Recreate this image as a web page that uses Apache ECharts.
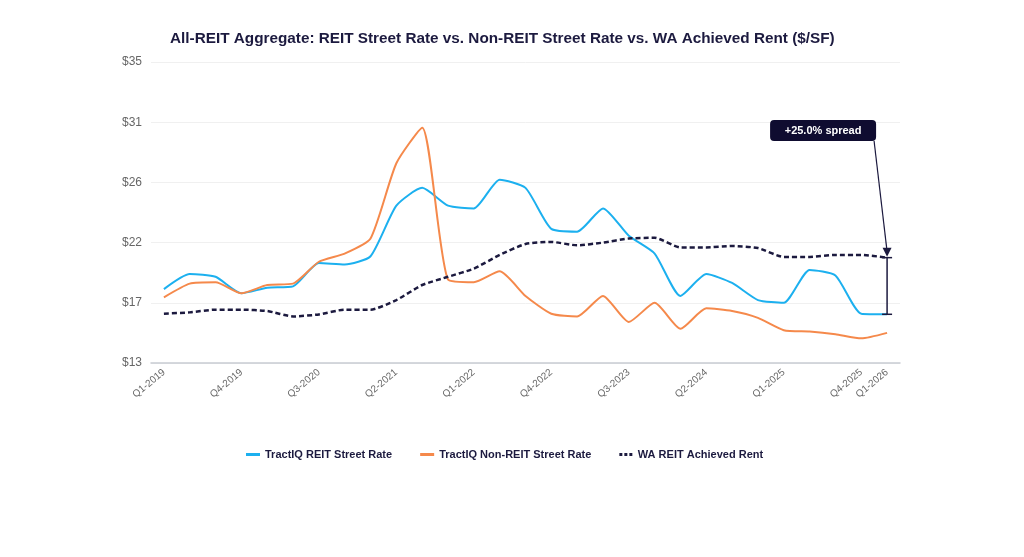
<!DOCTYPE html>
<html>
<head>
<meta charset="utf-8">
<script src="https://cdn.jsdelivr.net/npm/echarts@6/dist/echarts.min.js"></script>
<style>
  html, body { margin: 0; padding: 0; background: #fff; }
  #chart { width: 1024px; height: 557px; }
</style>
</head>
<body>
<div id="chart"></div>
<script>
// quarters, Q1-2019 .. Q1-2026
const quarters = [
  'Q1-2019', 'Q2-2019', 'Q3-2019', 'Q4-2019',
  'Q1-2020', 'Q2-2020', 'Q3-2020', 'Q4-2020',
  'Q1-2021', 'Q2-2021', 'Q3-2021', 'Q4-2021',
  'Q1-2022', 'Q2-2022', 'Q3-2022', 'Q4-2022',
  'Q1-2023', 'Q2-2023', 'Q3-2023', 'Q4-2023',
  'Q1-2024', 'Q2-2024', 'Q3-2024', 'Q4-2024',
  'Q1-2025', 'Q2-2025', 'Q3-2025', 'Q4-2025',
  'Q1-2026'
];

// $/SF
const reitStreet = [18.4, 19.5, 19.3, 18.1, 18.5, 18.6, 20.3, 20.2, 20.8, 24.5, 25.8, 24.5, 24.3, 26.4, 25.8, 22.8, 22.6, 24.3, 22.3, 21.0, 17.9, 19.5, 18.85, 17.6, 17.4, 19.8, 19.4, 16.6, 16.56];
const nonReitStreet = [17.8, 18.8, 18.9, 18.1, 18.7, 18.8, 20.4, 21.0, 22.1, 27.6, 30.2, 19.1, 18.9, 19.7, 17.9, 16.6, 16.4, 17.9, 16.0, 17.4, 15.5, 17.0, 16.8, 16.3, 15.4, 15.3, 15.1, 14.8, 15.2];
const waAchieved = [16.6, 16.7, 16.9, 16.9, 16.8, 16.4, 16.55, 16.9, 16.9, 17.6, 18.7, 19.3, 19.9, 20.9, 21.7, 21.85, 21.6, 21.8, 22.1, 22.15, 21.45, 21.45, 21.55, 21.4, 20.75, 20.75, 20.9, 20.9, 20.7];

const yMin = 13;
const yMax = 35;
const yStep = 4.4;

const navy = '#1c1a3f';
const blue = '#1cb0ef';
const orange = '#f5894b';

const chart = echarts.init(document.getElementById('chart'));

const option = {
  backgroundColor: '#ffffff',
  animation: false,
  textStyle: { fontFamily: 'Liberation Sans, Arial, sans-serif' },
  title: {
    text: 'All-REIT Aggregate: REIT Street Rate vs. Non-REIT Street Rate vs. WA Achieved Rent ($/SF)',
    left: 165,
    top: 26,
    textStyle: { color: navy, fontSize: 15.3, fontWeight: 'bold' }
  },
  legend: {
    top: 444,
    left: 241,
    itemWidth: 14,
    itemHeight: 3,
    itemGap: 28,
    textStyle: { color: navy, fontSize: 11, fontWeight: 'bold' },
    data: [
      { name: 'TractIQ REIT Street Rate', icon: 'rect' },
      { name: 'TractIQ Non-REIT Street Rate', icon: 'rect' },
      { name: 'WA REIT Achieved Rent', icon: 'path://M0,0h3v3h-3z M5,0h3v3h-3z M10,0h3v3h-3z' }
    ]
  },
  grid: { left: 151, right: 124, top: 62, bottom: 194 },
  xAxis: {
    type: 'category',
    data: quarters,
    boundaryGap: true,
    axisLine: { lineStyle: { color: '#c8cbd2', width: 1.5 } },
    axisTick: { show: false },
    axisLabel: {
      color: '#666',
      fontSize: 10,
      rotate: 40,
      margin: 8,
      interval: (i) => i % 3 === 0 || i === quarters.length - 1
    }
  },
  yAxis: {
    type: 'value',
    min: yMin,
    max: yMax,
    interval: yStep,
    axisLine: { show: false },
    axisTick: { show: false },
    splitLine: { lineStyle: { color: '#f0f0f0' } },
    axisLabel: {
      color: '#666',
      fontSize: 12,
      margin: 9,
      formatter: (v) => '$' + Math.round(v)
    }
  },
  series: [
    {
      name: 'TractIQ REIT Street Rate',
      type: 'line',
      data: reitStreet,
      smooth: 0.2,
      symbol: 'none',
      lineStyle: { color: blue, width: 2 },
      itemStyle: { color: blue }
    },
    {
      name: 'TractIQ Non-REIT Street Rate',
      type: 'line',
      data: nonReitStreet,
      smooth: 0.2,
      symbol: 'none',
      lineStyle: { color: orange, width: 2 },
      itemStyle: { color: orange }
    },
    {
      name: 'WA REIT Achieved Rent',
      type: 'line',
      data: waAchieved,
      smooth: 0.2,
      symbol: 'none',
      lineStyle: { color: navy, width: 2.5, type: [5, 3] },
      itemStyle: { color: navy }
    }
  ]
};

chart.setOption(option);

// spread annotation on the last quarter
const lastIdx = quarters.length - 1;
const ptTop = chart.convertToPixel({ seriesIndex: 2 }, [lastIdx, waAchieved[lastIdx]]);
const ptBot = chart.convertToPixel({ seriesIndex: 0 }, [lastIdx, reitStreet[lastIdx]]);
const spread = ((waAchieved[lastIdx] / reitStreet[lastIdx] - 1) * 100).toFixed(1);

const boxW = 106, boxH = 21;
const boxX = ptTop[0] - 11 - boxW;
const boxY = 120;

chart.setOption({
  graphic: [
    // bracket between the two lines
    { type: 'line', shape: { x1: ptTop[0], y1: ptTop[1], x2: ptBot[0], y2: ptBot[1] }, style: { stroke: navy, lineWidth: 1.5 }, z: 100 },
    { type: 'line', shape: { x1: ptTop[0] - 5, y1: ptTop[1], x2: ptTop[0] + 5, y2: ptTop[1] }, style: { stroke: navy, lineWidth: 1.5 }, z: 100 },
    { type: 'line', shape: { x1: ptBot[0] - 5, y1: ptBot[1], x2: ptBot[0] + 5, y2: ptBot[1] }, style: { stroke: navy, lineWidth: 1.5 }, z: 100 },
    // pointer from the label to the top of the bracket
    { type: 'line', shape: { x1: boxX + boxW - 2, y1: boxY + boxH, x2: ptTop[0], y2: ptTop[1] - 6 }, style: { stroke: navy, lineWidth: 1.2 }, z: 100 },
    { type: 'polygon', shape: { points: [[ptTop[0] - 4.5, ptTop[1] - 10], [ptTop[0] + 4.5, ptTop[1] - 10], [ptTop[0], ptTop[1] - 1]] }, style: { fill: navy }, z: 100 },
    // label
    { type: 'rect', shape: { x: boxX, y: boxY, width: boxW, height: boxH, r: 4 }, style: { fill: '#0f0c30' }, z: 100 },
    {
      type: 'text', x: boxX + boxW / 2, y: boxY + boxH / 2, z: 101,
      style: {
        text: '+' + spread + '% spread', fill: '#fff', font: 'bold 11px Liberation Sans, Arial, sans-serif',
        align: 'center', verticalAlign: 'middle'
      }
    }
  ]
});
</script>
</body>
</html>
